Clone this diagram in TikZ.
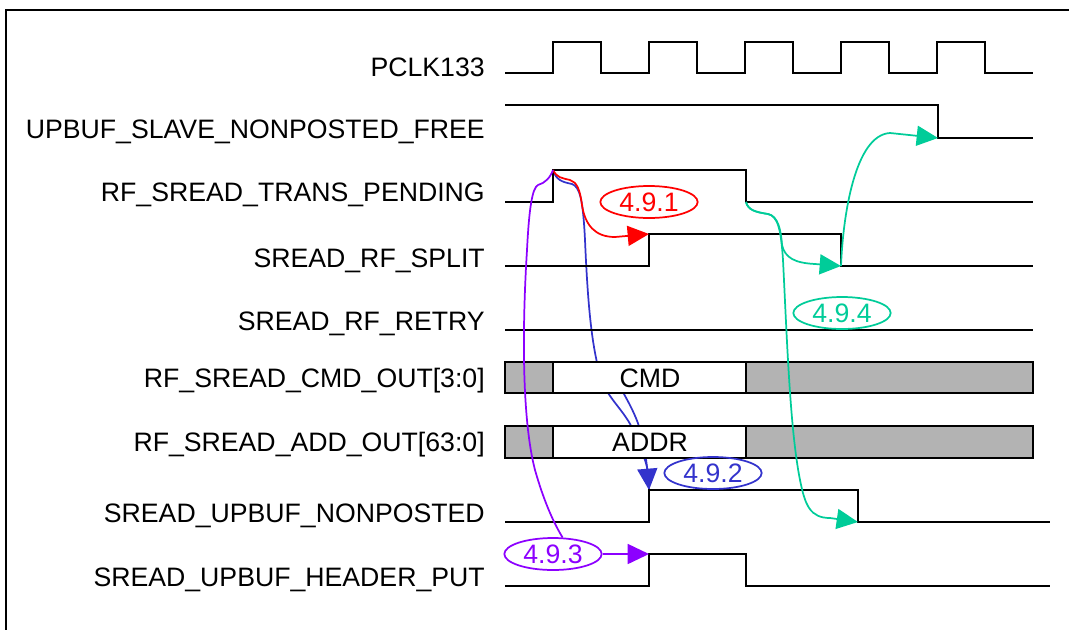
\documentclass[tikz,border=0pt]{standalone}
\usepackage{fontspec}
\setmainfont{Liberation Sans}
\definecolor{tdred}{HTML}{FF0000}
\definecolor{tdblue}{HTML}{3333CC}
\definecolor{tdviolet}{HTML}{8C00FF}
\definecolor{tdteal}{HTML}{00CC99}
\definecolor{tdgrey}{HTML}{B3B3B3}
\usetikzlibrary{arrows.meta, shapes.geometric}

\begin{document}
\begin{tikzpicture}[x=0.75pt, y=-0.75pt, every node/.style={font=\fontsize{20}{24}\selectfont},
    sig/.style={line width=1.8pt, line join=miter},
    bus/.style={draw, line width=1.8pt},
    lbl/.style={anchor=base east, inner sep=0pt},
    tag/.style={ellipse, draw, line width=1.3pt, inner sep=0pt, minimum width=73pt, minimum height=24pt, text height=14.3pt, text depth=0pt},
    lnk/.style={line width=1.3pt, -{Triangle[length=16pt, width=15pt]}}]
        \useasboundingbox (0,0) rectangle (1069,629);
        \draw[line width=1.6pt] (6,640) -- (6,10) -- (1080,10);

        \coordinate (pr) at (553,170);
        \coordinate (pf) at (746,202);
        \coordinate (sr) at (649,234);
        \coordinate (sf) at (841,266);
        \coordinate (uf) at (938,138);
        \coordinate (nr) at (649,490);
        \coordinate (nf) at (858,522);
        \coordinate (hr) at (649,554);
        \coordinate (cmdc) at (612,372);

        \draw[lnk, tdblue] (pr) .. controls (556,180) and (562,182) .. (572,184) .. controls (580,187) and (583,200) .. (585,240) .. controls (588,310) and (592,345) .. (600,375) .. controls (606,398) and (625,410) .. (634,432) .. controls (642,450) and (647,465) .. (nr);
        \draw[line width=1.3pt, tdblue] (cmdc) .. controls (618,385) and (635,410) .. (640,430) .. controls (644,445) and (647,460) .. (nr);

        \draw[sig] (505,73) \foreach \x in {553,649,745,841,937} {-- (\x,73) -- (\x,42) -- (\x+48,42) -- (\x+48,73)} -- (1033,73);
        \draw[sig] (505,105) -- (938,105) -- (938,138) -- (1033,138);
        \draw[sig] (505,202) -- (553,202) -- (553,170) -- (746,170) -- (746,202) -- (1033,202);
        \draw[sig] (505,266) -- (649,266) -- (649,234) -- (841,234) -- (841,266) -- (1033,266);
        \draw[sig] (505,330) -- (1033,330);
        \draw[bus, fill=tdgrey] (505,362) rectangle (553,393);
        \draw[bus, fill=white] (553,362) rectangle (746,393);
        \draw[bus, fill=tdgrey] (746,362) rectangle (1033,393);
        \draw[bus, fill=tdgrey] (505,426) rectangle (553,458);
        \draw[bus, fill=white] (553,426) rectangle (746,458);
        \draw[bus, fill=tdgrey] (746,426) rectangle (1033,458);
        \draw[sig] (505,522) -- (649,522) -- (649,490) -- (858,490) -- (858,522) -- (1050,522);
        \draw[sig] (505,586) -- (649,586) -- (649,554) -- (746,554) -- (746,586) -- (1050,586);

        \node (cmd) at (650,378) {CMD};
        \node (addr) at (650,442) {ADDR};

        \node[lbl] (pclk) at (485,76) {PCLK133};
        \node[lbl] (free) at (485,138) {UPBUF\_SLAVE\_NONPOSTED\_FREE};
        \node[lbl] (pend) at (485,201) {RF\_SREAD\_TRANS\_PENDING};
        \node[lbl] (split) at (485,267) {SREAD\_RF\_SPLIT};
        \node[lbl] (retry) at (485,330) {SREAD\_RF\_RETRY};
        \node[lbl] (cmdout) at (485,387) {RF\_SREAD\_CMD\_OUT[3:0]};
        \node[lbl] (addout) at (485,451) {RF\_SREAD\_ADD\_OUT[63:0]};
        \node[lbl] (npost) at (485,522) {SREAD\_UPBUF\_NONPOSTED};
        \node[lbl] (hput) at (485,586) {SREAD\_UPBUF\_HEADER\_PUT};

        \node[tag, tdred] (g1) at (649,202) {4.9.1};
        \node[tag, tdblue] (g2) at (713,473) {4.9.2};
        \node[tag, tdviolet] (g3) at (553,554) {4.9.3};
        \node[tag, tdteal] (g4) at (842,313) {4.9.4};

        \draw[lnk, tdred] (pr) .. controls (557,178) and (562,178) .. (570,180) .. controls (577,182) and (580,190) .. (582,205) .. controls (585,225) and (595,237) .. (615,237) -- (sr);
        \draw[line width=1.3pt, tdviolet] (pr) .. controls (550,178) and (545,183) .. (538,185) .. controls (532,188) and (529,210) .. (527,250) .. controls (522,330) and (522,420) .. (535,470) .. controls (545,505) and (555,525) .. (g3.60);
        \draw[lnk, tdviolet] (g3.east) -- (hr);
        \draw[lnk, tdteal] (pf) .. controls (748,210) and (755,212) .. (768,214) .. controls (778,216) and (781,230) .. (782,245) .. controls (785,258) and (795,263) .. (815,264) -- (sf);
        \draw[lnk, tdteal] (pf) .. controls (748,210) and (755,212) .. (768,214) .. controls (778,216) and (781,230) .. (783,260) .. controls (787,340) and (790,430) .. (800,480) .. controls (805,505) and (810,518) .. (830,518) -- (nf);
        \draw[lnk, tdteal] (sf) .. controls (843,215) and (855,135) .. (890,133) -- (uf);
\end{tikzpicture}
\end{document}
